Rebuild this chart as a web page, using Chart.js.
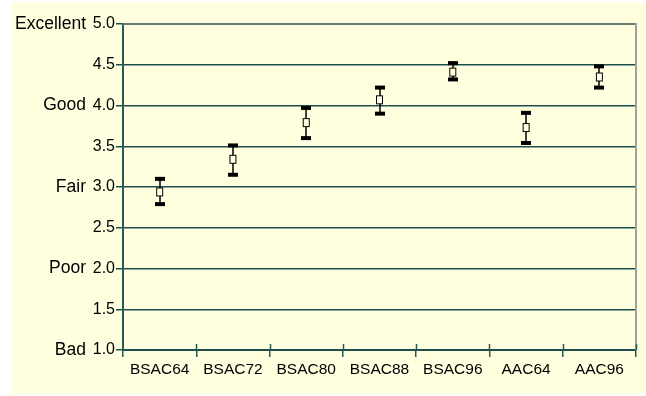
<!DOCTYPE html>
<html>
<head>
<meta charset="utf-8">
<script src="https://cdn.jsdelivr.net/npm/chart.js@4/dist/chart.umd.min.js"></script>
<style>
  html, body { margin: 0; padding: 0; background: #ffffff; }
  #frame { position: absolute; left: 12px; top: 2px; width: 634px; height: 392px; background: #ffffe0; }
  canvas { display: block; }
</style>
</head>
<body>
<div id="frame"><canvas id="c" width="634" height="392"></canvas></div>
<script>
// Codec ratings with confidence intervals
const categories = ['BSAC64', 'BSAC72', 'BSAC80', 'BSAC88', 'BSAC96', 'AAC64', 'AAC96'];
const meanScore  = [2.94, 3.34, 3.79, 4.07, 4.41, 3.73, 4.35];
const upperBound = [3.10, 3.51, 3.97, 4.22, 4.52, 3.91, 4.48];
const lowerBound = [2.79, 3.15, 3.60, 3.90, 4.32, 3.54, 4.22];

// Verbal grades shown beside the numeric scale
const gradeValues = [1, 2, 3, 4, 5];
const gradeWords  = ['Bad', 'Poor', 'Fair', 'Good', 'Excellent'];

const FONT = "'Liberation Sans', Arial, Helvetica, sans-serif";
const GRID = '#1f4e4e';
const AXIS = '#2b5a55';

// open box used as the mean marker
const marker = document.createElement('canvas');
marker.width = 9; marker.height = 11;
(function () {
  const m = marker.getContext('2d');
  m.fillStyle = '#ffffe0';
  m.fillRect(1, 1, 7, 9);
  m.strokeStyle = '#000';
  m.lineWidth = 1;
  m.strokeRect(1.5, 1.5, 6, 8);
})();

// whiskers with heavy caps, drawn under the mean markers
const errorBars = {
  id: 'errorBars',
  beforeDatasetsDraw(chart) {
    const { ctx, scales: { x, y } } = chart;
    ctx.save();
    ctx.fillStyle = '#000';
    ctx.strokeStyle = '#000';
    ctx.lineWidth = 1.5;
    categories.forEach((c, i) => {
      const px = Math.round(x.getPixelForValue(i));
      const top = y.getPixelForValue(upperBound[i]);
      const bot = y.getPixelForValue(lowerBound[i]);
      ctx.beginPath();
      ctx.moveTo(px, top);
      ctx.lineTo(px, bot);
      ctx.stroke();
      ctx.fillRect(px - 5, top - 2, 10, 4);
      ctx.fillRect(px - 5, bot - 2, 10, 4);
    });
    ctx.restore();
  }
};

// plot frame edges and the inner half of the category ticks
const frameLines = {
  id: 'frameLines',
  afterDraw(chart) {
    const { ctx, chartArea: a, scales: { x } } = chart;
    ctx.save();
    ctx.lineWidth = 2;
    ctx.strokeStyle = '#6a7a6c';
    ctx.beginPath();
    ctx.moveTo(a.left, a.top);
    ctx.lineTo(a.right, a.top);
    ctx.stroke();
    ctx.strokeStyle = '#a0a0a0';
    ctx.beginPath();
    ctx.moveTo(a.right, a.top - 1);
    ctx.lineTo(a.right, a.bottom);
    ctx.stroke();
    ctx.strokeStyle = AXIS;
    ctx.lineWidth = 1.5;
    const step = (x.right - x.left) / categories.length;
    for (let i = 1; i <= categories.length; i++) {
      const px = Math.round(x.left + i * step) + 0.5;
      ctx.beginPath();
      ctx.moveTo(px, a.bottom - 6);
      ctx.lineTo(px, a.bottom);
      ctx.stroke();
    }
    ctx.restore();
  }
};

new Chart(document.getElementById('c'), {
  type: 'line',
  data: {
    labels: categories,
    datasets: [{
      data: meanScore,
      showLine: false,
      pointStyle: marker,
      pointRadius: 5,
      pointHoverRadius: 5
    }]
  },
  options: {
    responsive: false,
    animation: false,
    events: [],
    layout: { padding: { top: 22, right: 10, left: 0, bottom: 0 } },
    plugins: { legend: { display: false }, tooltip: { enabled: false } },
    scales: {
      x: {
        type: 'category',
        offset: true,
        grid: { offset: true, drawOnChartArea: false, color: AXIS, lineWidth: 1.5, tickLength: 7 },
        border: { color: GRID, width: 2 },
        ticks: { color: '#000', font: { family: FONT, size: 15.5 }, padding: 3, maxRotation: 0 },
        afterFit(s) { s.height = 44; }
      },
      y: {
        position: 'left',
        min: 1, max: 5,
        weight: 0,
        grid: { color: GRID, lineWidth: 1.5, tickLength: 7 },
        border: { color: AXIS, width: 2 },
        ticks: {
          stepSize: 0.5, padding: 1, color: '#000',
          font: { family: FONT, size: 16 },
          callback: v => Number(v).toFixed(1)
        },
        afterFit(s) { s.width = 37; }
      },
      grade: {
        position: 'left',
        min: 1, max: 5,
        weight: 1,
        grid: { display: false, drawTicks: false },
        border: { display: false },
        ticks: {
          stepSize: 1, padding: 0, color: '#000',
          font: { family: FONT, size: 17.5 },
          callback: v => {
            const k = gradeValues.indexOf(Number(v));
            return k >= 0 ? gradeWords[k] : '';
          }
        },
        afterFit(s) { s.width = 74; }
      }
    }
  },
  plugins: [errorBars, frameLines]
});
</script>
</body>
</html>
